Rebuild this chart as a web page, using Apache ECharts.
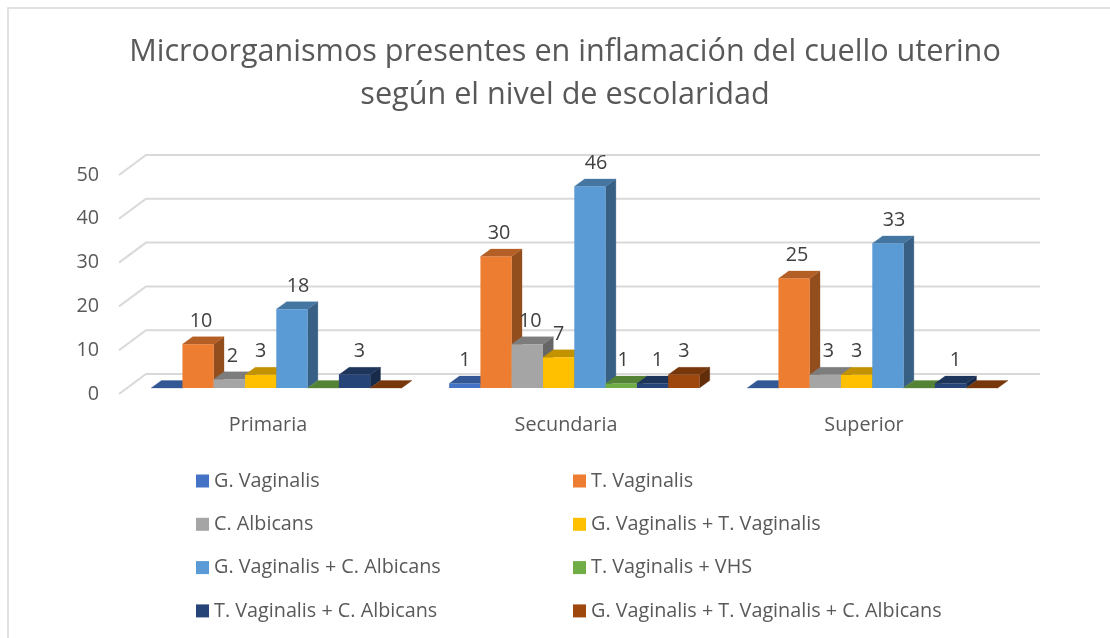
<!DOCTYPE html>
<html>
<head>
<meta charset="utf-8">
<style>html,body{margin:0;padding:0;background:#fff}#c{width:1110px;height:638px}</style>
<script src="https://cdn.jsdelivr.net/npm/echarts@6/dist/echarts.min.js"></script>
</head>
<body>
<div id="c"></div>
<script>
const categories = ['Primaria', 'Secundaria', 'Superior'];
const seriesNames = ['G. Vaginalis', 'T. Vaginalis', 'C. Albicans', 'G. Vaginalis + T. Vaginalis',
  'G. Vaginalis + C. Albicans', 'T. Vaginalis + VHS', 'T. Vaginalis + C. Albicans', 'G. Vaginalis + T. Vaginalis + C. Albicans'];
const gVaginalis = [0, 1, 0];
const tVaginalis = [10, 30, 25];
const cAlbicans = [2, 10, 3];
const gvTv = [3, 7, 3];
const gvCa = [18, 46, 33];
const tvVhs = [0, 1, 0];
const tvCa = [3, 1, 1];
const gvTvCa = [0, 3, 0];
const yTicks = [0, 10, 20, 30, 40, 50];
const seriesValues = [gVaginalis, tVaginalis, cAlbicans, gvTv, gvCa, tvVhs, tvCa, gvTvCa];
const colors = ['#4472C4', '#ED7D31', '#A5A5A5', '#FFC000', '#5B9BD5', '#70AD47', '#264478', '#9E480E'];
const labelShift = [0, 3, 3, 0, 6, 2, 5, 0];

const wallDX = 27, wallDY = 20;    // oblique projection of the chart's depth
const floorDX = 8.3, floorDY = 6;  // bars stand this far behind the front edge
const barDX = 10.3, barDY = 7.5;   // depth of one bar
const barShare = 0.105;            // bar width as a share of one category band
const fontFamily = 'Open Sans';
const textSize = 19.8;

function shade(hex, k) {
  const n = parseInt(hex.slice(1), 16);
  const c = s => Math.round(((n >> s) & 255) * k);
  return 'rgb(' + c(16) + ',' + c(8) + ',' + c(0) + ')';
}

function barSeries(idx) {
  const color = colors[idx];
  return {
    type: 'custom',
    name: seriesNames[idx],
    itemStyle: { color: color },
    clip: false,
    silent: true,
    data: seriesValues[idx].map((v, i) => [i, v]),
    renderItem: function (params, api) {
      const cat = api.value(0), val = api.value(1);
      const band = api.size([1, 0])[0];
      const w = band * barShare;
      const base = api.coord([cat, 0]);
      const top = api.coord([cat, val]);
      const x = base[0] + floorDX + (idx - seriesNames.length / 2) * w;
      const y0 = base[1] - floorDY;
      const y1 = top[1] - floorDY;
      const poly = (pts, fill) => ({ type: 'polygon', shape: { points: pts }, style: { fill: fill, stroke: fill, lineWidth: 0.3 } });
      const children = [
        poly([[x + w, y1], [x + w + barDX, y1 - barDY], [x + w + barDX, y0 - barDY], [x + w, y0]], shade(color, 0.62)),
        poly([[x, y1], [x + barDX, y1 - barDY], [x + w + barDX, y1 - barDY], [x + w, y1]], shade(color, 0.76))
      ];
      if (val > 0) {
        children.push({ type: 'rect', shape: { x: x, y: y1, width: w, height: y0 - y1 }, style: { fill: color } });
        children.push({
          type: 'text', z2: 100,
          style: {
            x: x + w / 2 + labelShift[idx], y: y1 - 23, text: String(val),
            fill: '#404040', font: textSize + 'px "' + fontFamily + '"', align: 'center', verticalAlign: 'middle'
          }
        });
      }
      return { type: 'group', children: children };
    }
  };
}

const gridSeries = {
  type: 'custom',
  name: 'grid',
  silent: true,
  clip: false,
  z: 1,
  data: yTicks.map(v => [0, v]),
  renderItem: function (params, api) {
    const y = api.coord([0, api.value(1)])[1];
    const x0 = params.coordSys.x, x1 = x0 + params.coordSys.width;
    return {
      type: 'polyline',
      shape: { points: [[x0, y], [x0 + wallDX, y - wallDY], [x1 + wallDX, y - wallDY]] },
      style: { stroke: '#d9d9d9', lineWidth: 2, fill: null }
    };
  }
};

const legendText = { color: '#595959', fontSize: textSize, fontFamily: fontFamily };
const chart = echarts.init(document.getElementById('c'), null, { renderer: 'canvas' });
chart.setOption({
  animation: false,
  backgroundColor: '#fff',
  title: {
    text: 'Microorganismos presentes en inflamación del cuello uterino\nsegún el nivel de escolaridad',
    left: 560, top: 26, textAlign: 'center',
    textStyle: { color: '#595959', fontSize: 30.6, fontWeight: 'normal', fontFamily: fontFamily, lineHeight: 43 }
  },
  graphic: [{
    type: 'polyline', silent: true, z: -1,
    shape: { points: [[8, 638], [8, 8], [1110, 8]] },
    style: { fill: null, stroke: '#d9d9d9', lineWidth: 1.5 }
  }],
  legend: [
    { orient: 'vertical', left: 196, top: 471, icon: 'rect', itemWidth: 13, itemHeight: 13, itemGap: 23.3, padding: 0,
      selectedMode: false, textStyle: legendText, data: seriesNames.filter((n, i) => i % 2 === 0) },
    { orient: 'vertical', left: 573, top: 471, icon: 'rect', itemWidth: 13, itemHeight: 13, itemGap: 23.3, padding: 0,
      selectedMode: false, textStyle: legendText, data: seriesNames.filter((n, i) => i % 2 === 1) }
  ],
  grid: { left: 119, top: 175, width: 894, height: 219, containLabel: false },
  xAxis: {
    type: 'category', data: categories,
    axisLine: { show: false }, axisTick: { show: false }, splitLine: { show: false },
    axisLabel: { color: '#595959', fontSize: textSize, fontFamily: fontFamily, margin: 21 }
  },
  yAxis: {
    type: 'value', min: 0, max: 50, interval: 10,
    axisLine: { show: false }, axisTick: { show: false }, splitLine: { show: false },
    axisLabel: { color: '#595959', fontSize: textSize, fontFamily: fontFamily, margin: 20, padding: [5, 0, 0, 0] }
  },
  series: [gridSeries].concat(seriesNames.map((n, i) => barSeries(i)))
});
</script>
</body>
</html>
